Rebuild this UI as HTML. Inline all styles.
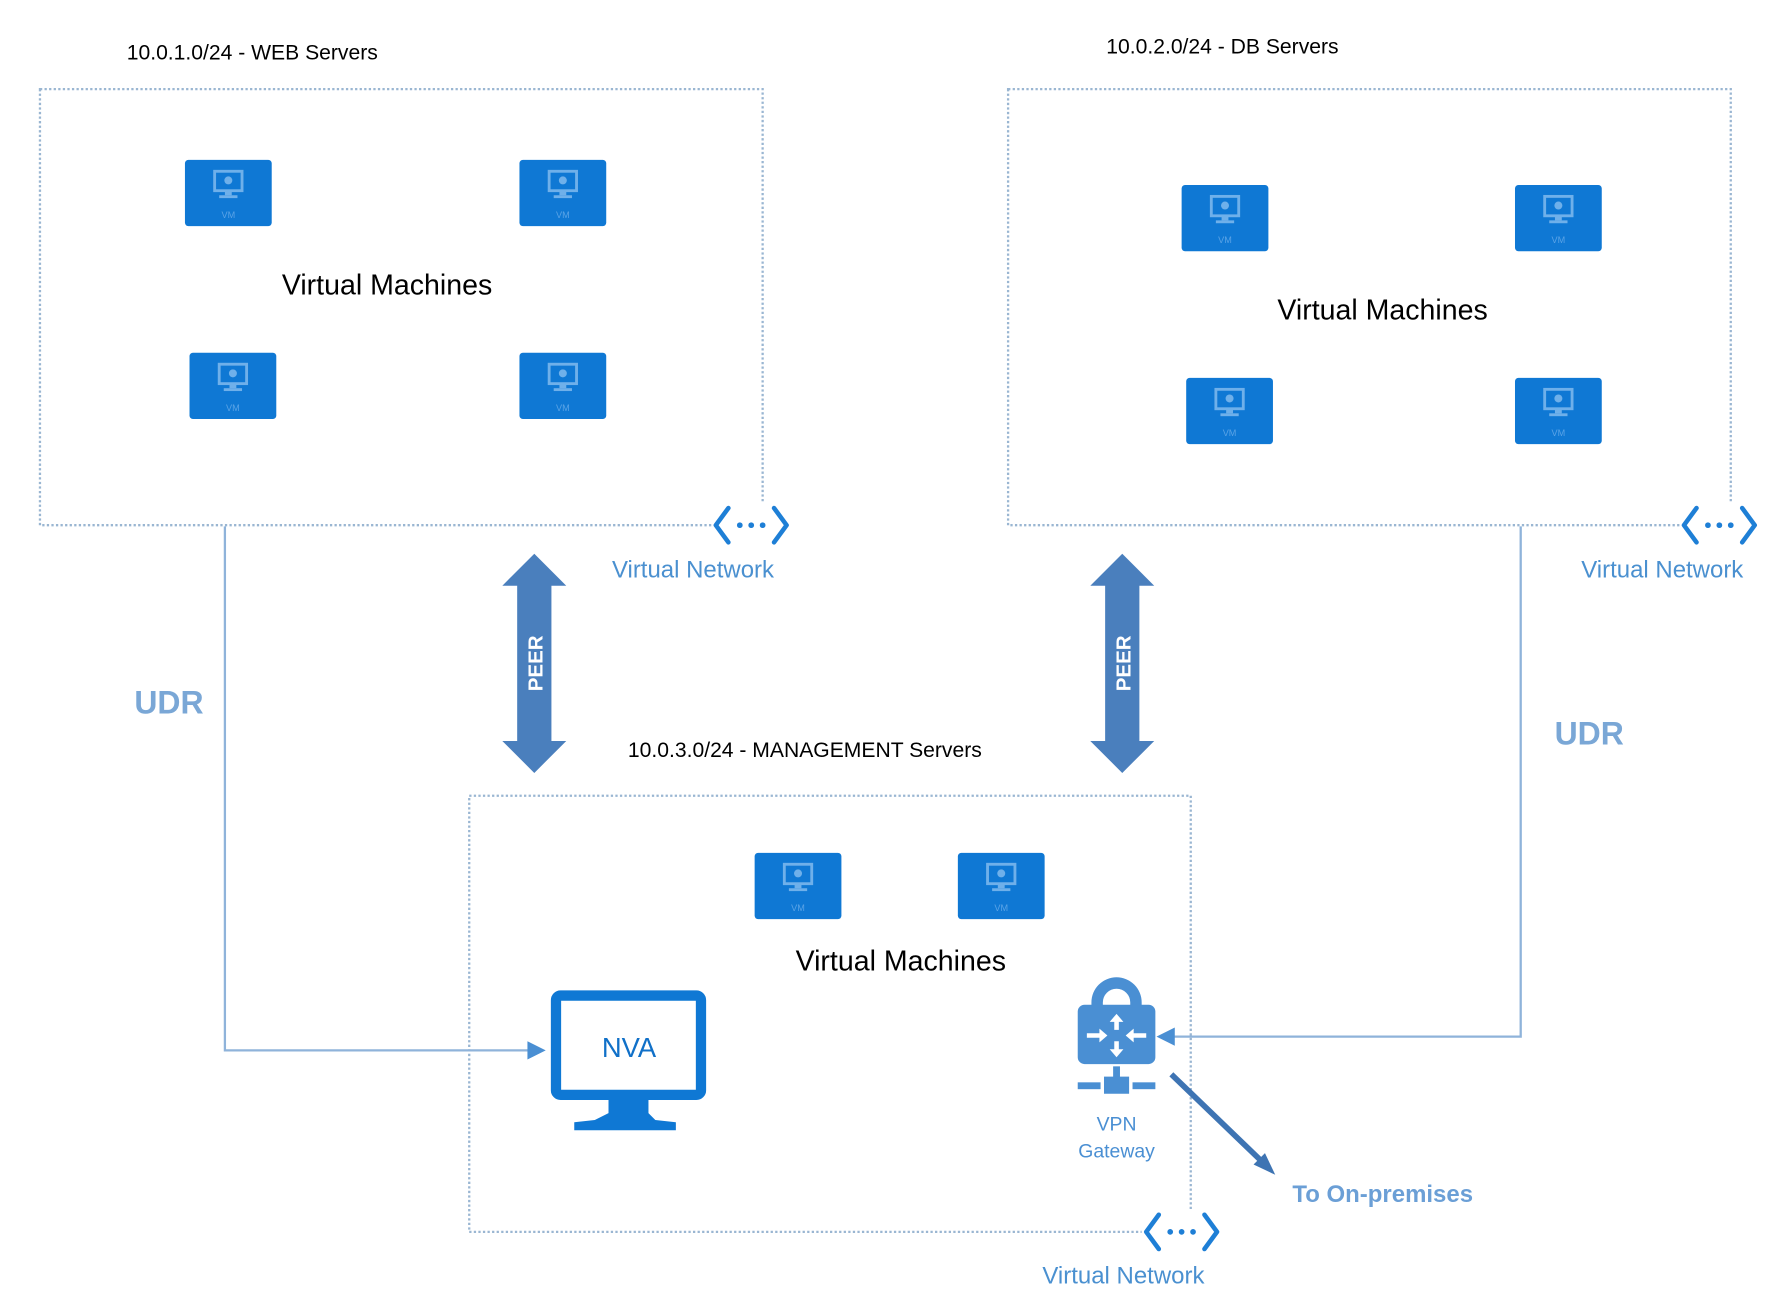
<!DOCTYPE html>
<html><head><meta charset="utf-8"><style>
html,body{margin:0;padding:0;background:#fff;}
svg{display:block;}
</style></head><body>
<svg width="1781" height="1297" viewBox="0 0 1560 1136" xmlns="http://www.w3.org/2000/svg">
<defs>
<g id="vm">
  <rect x="0" y="0" width="76" height="58" rx="3" fill="#0f78d4"/>
  <rect x="26" y="10" width="24" height="17" fill="none" stroke="#6fb0ea" stroke-width="2.5"/>
  <circle cx="38" cy="18" r="3.5" fill="#6fb0ea"/>
  <rect x="35" y="27" width="6" height="4" fill="#6fb0ea"/>
  <rect x="30" y="31" width="16" height="2.5" fill="#6fb0ea"/>
  <text x="38" y="51" font-family="Liberation Sans, sans-serif" font-size="8" fill="#5aa3e6" text-anchor="middle">VM</text>
</g>
<g id="vnet" fill="none" stroke="#1e7fd6" stroke-width="4" stroke-linecap="round" stroke-linejoin="round">
  <polyline points="-20,-15 -31,0 -20,15"/>
  <polyline points="20,-15 31,0 20,15"/>
  <circle cx="-10" cy="0" r="2.5" fill="#1e7fd6" stroke="none"/>
  <circle cx="0" cy="0" r="2.5" fill="#1e7fd6" stroke="none"/>
  <circle cx="10" cy="0" r="2.5" fill="#1e7fd6" stroke="none"/>
</g>
<g id="peer">
  <polygon points="0,0 28,28 15,28 15,164 28,164 0,192 -28,164 -15,164 -15,28 -28,28" fill="#4a7fbd"/>
  <text transform="translate(7,96) rotate(-90)" font-family="Liberation Sans, sans-serif" font-weight="bold" font-size="18" fill="#fff" text-anchor="middle">PEER</text>
</g>
</defs>

<g font-family="Liberation Sans, sans-serif">
<text x="111" y="52" font-size="18.5" fill="#000">10.0.1.0/24 - WEB Servers</text>
<rect x="35" y="78" width="633" height="382" fill="none" stroke="#9ab6d2" stroke-width="2" stroke-dasharray="2,2"/>
<use href="#vm" x="162" y="140"/><use href="#vm" x="455" y="140"/>
<use href="#vm" x="166" y="309"/><use href="#vm" x="455" y="309"/>
<text x="339" y="258" font-size="25" fill="#000" text-anchor="middle">Virtual Machines</text>
<rect x="625" y="440" width="70" height="40" fill="#fff"/>
<use href="#vnet" x="658" y="460"/>
<text x="607" y="506" font-size="21" fill="#4a90d0" text-anchor="middle">Virtual Network</text>

<text x="969" y="47" font-size="18.5" fill="#000">10.0.2.0/24 - DB Servers</text>
<rect x="883" y="78" width="633" height="382" fill="none" stroke="#9ab6d2" stroke-width="2" stroke-dasharray="2,2"/>
<use href="#vm" x="1035" y="162"/><use href="#vm" x="1327" y="162"/>
<use href="#vm" x="1039" y="331"/><use href="#vm" x="1327" y="331"/>
<text x="1211" y="280" font-size="25" fill="#000" text-anchor="middle">Virtual Machines</text>
<rect x="1472" y="440" width="70" height="40" fill="#fff"/>
<use href="#vnet" x="1506" y="460"/>
<text x="1456" y="506" font-size="21" fill="#4a90d0" text-anchor="middle">Virtual Network</text>

<use href="#peer" x="468" y="485"/>
<use href="#peer" x="983" y="485"/>

<text x="550" y="663" font-size="18.5" fill="#000">10.0.3.0/24 - MANAGEMENT Servers</text>
<rect x="411" y="697" width="632" height="382" fill="none" stroke="#9ab6d2" stroke-width="2" stroke-dasharray="2,2"/>
<use href="#vm" x="661" y="747"/><use href="#vm" x="839" y="747"/>
<text x="789" y="850" font-size="25" fill="#000" text-anchor="middle">Virtual Machines</text>
<rect x="1000" y="1060" width="70" height="40" fill="#fff"/>
<use href="#vnet" x="1035" y="1079"/>
<text x="984" y="1124" font-size="21" fill="#4a90d0" text-anchor="middle">Virtual Network</text>

<polyline points="197,461 197,920 465,920" fill="none" stroke="#8fb3da" stroke-width="2"/>
<polygon points="478,920 462,912 462,928" fill="#4a8fd3"/>
<polyline points="1332,461 1332,908 1025,908" fill="none" stroke="#8fb3da" stroke-width="2"/>
<polygon points="1013,908 1029,900 1029,916" fill="#4a8fd3"/>
<text x="148" y="625" font-size="28" font-weight="bold" fill="#7aa7d6" text-anchor="middle">UDR</text>
<text x="1392" y="652" font-size="28" font-weight="bold" fill="#7aa7d6" text-anchor="middle">UDR</text>

<rect x="487" y="872" width="127" height="87" rx="4" fill="#fff" stroke="#0f78d4" stroke-width="9"/>
<polygon points="533,963 568,963 568,975 574,981 592,983 592,990 503,990 503,983 521,981 533,975" fill="#0f78d4"/>
<text x="551" y="926" font-size="24" fill="#1070c8" text-anchor="middle">NVA</text>

<path d="M956,884 v-6 a22,22 0 0 1 44,0 v6 h-10 v-6 a12,12 0 0 0 -24,0 v6 z" fill="#4a8fd3"/>
<rect x="944" y="880" width="68" height="52" rx="6" fill="#4a8fd3"/>
<g fill="#fff">
  <polygon points="978,888 984,895 980,895 980,902 976,902 976,895 972,895"/>
  <polygon points="978,926 984,919 980,919 980,912 976,912 976,919 972,919"/>
  <polygon points="970,907 963,901 963,905 952,905 952,909 963,909 963,913"/>
  <polygon points="986,907 993,901 993,905 1004,905 1004,909 993,909 993,913"/>
</g>
<rect x="975" y="934" width="6" height="10" fill="#4a8fd3"/>
<rect x="967" y="943" width="22" height="15" fill="#4a8fd3"/>
<rect x="944" y="948" width="20" height="6" fill="#4a8fd3"/>
<rect x="992" y="948" width="20" height="6" fill="#4a8fd3"/>
<text x="978" y="990" font-size="17" fill="#4a8fd3" text-anchor="middle">VPN</text>
<text x="978" y="1014" font-size="17" fill="#4a8fd3" text-anchor="middle">Gateway</text>

<line x1="1026" y1="941" x2="1106" y2="1018" stroke="#3e74b3" stroke-width="5"/>
<polygon points="1117,1029 1098,1020 1108,1010" fill="#3e74b3"/>
<text x="1132" y="1053" font-size="21" font-weight="bold" fill="#6b9fd6">To On-premises</text>
</g>
</svg>
</body></html>
